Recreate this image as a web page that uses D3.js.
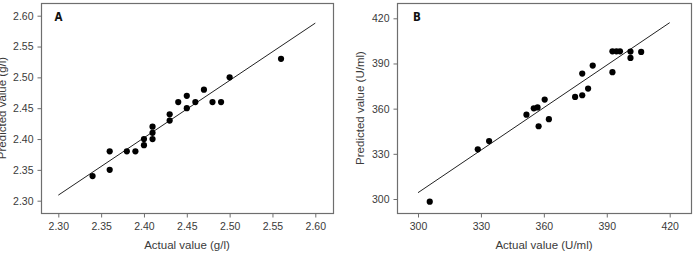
<!DOCTYPE html>
<html>
<head>
	<meta charset="utf-8">
	<script src="https://cdn.jsdelivr.net/npm/d3@7"></script>
	<style>
		body { margin: 0; background: #fff; }
		text { font-family: "Liberation Sans", Arial, sans-serif; }
	</style>
</head>
<body>
	<script>
		// panel A: glucose-like values (g/l)
		var actualA = [2.34, 2.36, 2.36, 2.38, 2.39, 2.40, 2.40, 2.41, 2.41, 2.41, 2.43, 2.43, 2.44, 2.45, 2.45, 2.46, 2.47, 2.48, 2.49, 2.50, 2.56]
		var predictedA = [2.34, 2.38, 2.35, 2.38, 2.38, 2.40, 2.39, 2.42, 2.41, 2.40, 2.44, 2.43, 2.46, 2.47, 2.45, 2.46, 2.48, 2.46, 2.46, 2.50, 2.53]
		var fitA = [[2.30, 2.309], [2.60, 2.588]]
		var ticksA = [2.30, 2.35, 2.40, 2.45, 2.50, 2.55, 2.60]

		// panel B: activity values (U/ml)
		var actualB = [305.6, 328.5, 333.9, 351.7, 355.2, 357.0, 360.4, 357.5, 362.4, 374.9, 378.3, 378.3, 381.1, 383.3, 392.7, 392.7, 394.6, 396.3, 401.3, 401.3, 406.4]
		var predictedB = [298.2, 333.0, 338.5, 356.0, 360.2, 360.8, 366.0, 348.3, 353.0, 367.8, 368.9, 383.3, 373.3, 388.6, 384.2, 398.1, 398.1, 398.1, 397.9, 393.7, 397.7]
		var fitB = [[300, 304.2], [420, 417.1]]
		var ticksB = [300, 330, 360, 390, 420]

		var svg = d3.select("body").append("svg")
			.attr("width", 697)
			.attr("height", 255)

		function panel(opt) {
			var g = svg.append("g")
			var x = d3.scaleLinear().domain(opt.xd).range(opt.xr)
			var y = d3.scaleLinear().domain(opt.yd).range(opt.yr)

			// frame
			g.append("rect")
				.attr("x", opt.box[0] + 0.5).attr("y", opt.box[1] + 0.5)
				.attr("width", opt.box[2] - opt.box[0]).attr("height", opt.box[3] - opt.box[1])
				.attr("fill", "none").attr("stroke", "#6e6e6e").attr("stroke-width", 1.2)

			var xa = g.append("g")
				.attr("transform", "translate(0," + (opt.box[3] + 0.5) + ")")
				.call(d3.axisBottom(x).tickValues(opt.ticks).tickSize(4).tickPadding(5).tickFormat(opt.fmt))
			var ya = g.append("g")
				.attr("transform", "translate(" + (opt.box[0] + 0.5) + ",0)")
				.call(d3.axisLeft(y).tickValues(opt.ticks).tickSize(4).tickPadding(4).tickFormat(opt.fmt))
			;[xa, ya].forEach(function (a) {
				a.select(".domain").remove()
				a.selectAll("line").attr("stroke", "#6e6e6e")
				a.selectAll("text").attr("fill", "#3a3a3a").style("font-size", "10.5px")
			})

			// fitted line
			g.append("line")
				.attr("x1", x(opt.fit[0][0])).attr("y1", y(opt.fit[0][1]))
				.attr("x2", x(opt.fit[1][0])).attr("y2", y(opt.fit[1][1]))
				.attr("stroke", "#222").attr("stroke-width", 1)

			g.selectAll("circle").data(opt.xs)
				.enter().append("circle")
				.attr("cx", function (d) { return x(d) })
				.attr("cy", function (d, i) { return y(opt.ys[i]) })
				.attr("r", 3.1)
				.attr("fill", "#000")

			g.append("text")
				.attr("x", (opt.box[0] + opt.box[2]) / 2).attr("y", 249)
				.attr("text-anchor", "middle")
				.attr("fill", "#3a3a3a").style("font-size", "11.5px")
				.text(opt.xt)
			g.append("text")
				.attr("transform", "translate(" + opt.ytx + "," + ((opt.box[1] + opt.box[3]) / 2) + ") rotate(-90)")
				.attr("text-anchor", "middle").attr("dy", "0.35em")
				.attr("fill", "#3a3a3a").style("font-size", "11.5px")
				.text(opt.yt)
			g.append("text")
				.attr("x", opt.lab[0]).attr("y", opt.lab[1])
				.attr("font-weight", "bold")
				.style("font-family", "'DejaVu Sans Condensed', 'DejaVu Sans', sans-serif")
				.style("font-size", "11.5px")
				.attr("fill", "#111")
				.text(opt.name)
		}

		panel({
			xd: [2.30, 2.60], xr: [58.3, 315.3],
			yd: [2.30, 2.60], yr: [200.7, 15.7],
			box: [41, 3, 333, 213],
			ticks: ticksA, fmt: d3.format(".2f"),
			fit: fitA, xs: actualA, ys: predictedA,
			xt: "Actual value (g/l)", yt: "Predicted value (g/l)", ytx: 2,
			lab: [54.5, 21], name: "A"
		})

		panel({
			xd: [300, 420], xr: [418, 669.7],
			yd: [300, 420], yr: [199, 18.3],
			box: [397, 3, 691, 213],
			ticks: ticksB, fmt: d3.format("d"),
			fit: fitB, xs: actualB, ys: predictedB,
			xt: "Actual value (U/ml)", yt: "Predicted value (U/ml)", ytx: 360,
			lab: [413, 21], name: "B"
		})
	</script>
</body>
</html>
